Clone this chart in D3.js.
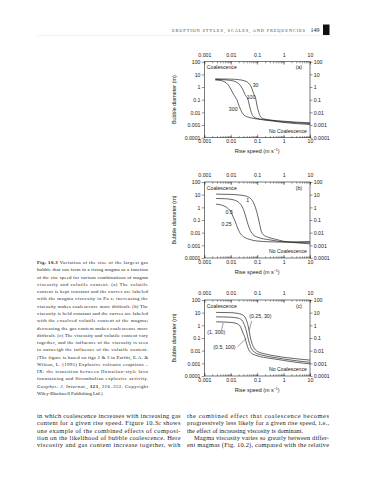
<!DOCTYPE html>
<meta charset="utf-8">
<style>

body {
  margin: 0;
  background: #fff;
}

svg {
  display: block;
}

</style>
<body>
<script src="https://cdn.jsdelivr.net/npm/d3@7"></script>
<script>

var width = 369,
    height = 480;

// tick values and labels, shared by the three panels
var speedTicks = [0.001, 0.01, 0.1, 1, 10],
    speedLabels = ["0.001", "0.01", "0.1", "1", "10"],
    diamTicks = [100, 10, 1, 0.1, 0.01, 0.001, 0.0001],
    diamLabels = ["100", "10", "1", "0.1", "0.01", "0.001", "0.0001"];

// (a) constant volatile content, viscosity 30, 100, 300 Pa s  -- [rise speed, bubble diameter]
var visc30 = [[0.0026, 4.4], [0.01, 4.2], [0.02, 3.8], [0.035, 3], [0.048, 2], [0.06, 1], [0.072, 0.35], [0.09, 0.1],
              [0.1, 0.03], [0.115, 0.01], [0.13, 0.005], [0.17, 0.0032], [0.3, 0.0025], [1, 0.002], [3, 0.0017], [10, 0.0015]];
var visc100 = [[0.0026, 4], [0.005, 3.8], [0.01, 3.3], [0.016, 2.5], [0.022, 1.5], [0.028, 0.7], [0.035, 0.25], [0.045, 0.1],
               [0.052, 0.03], [0.06, 0.01], [0.07, 0.005], [0.1, 0.0033], [0.3, 0.0024], [1, 0.0018], [3, 0.0015], [10, 0.0013]];
var visc300 = [[0.0026, 3.6], [0.004, 3.3], [0.006, 2.5], [0.008, 1.5], [0.01, 0.7], [0.013, 0.25], [0.017, 0.1], [0.021, 0.03],
               [0.026, 0.011], [0.032, 0.006], [0.05, 0.004], [0.1, 0.003], [0.3, 0.0022], [1, 0.0016], [3, 0.0013], [10, 0.0011]];

// (b) constant viscosity, exsolved volatile content 1, 0.5, 0.25
var gas1 = [[0.0028, 11], [0.01, 10.5], [0.02, 9.5], [0.035, 8], [0.05, 6], [0.065, 3.5], [0.08, 1.5], [0.095, 0.5], [0.11, 0.15],
            [0.125, 0.045], [0.14, 0.015], [0.17, 0.007], [0.25, 0.0045], [0.5, 0.003], [1, 0.0021], [3, 0.0016], [10, 0.0013]];
var gas05 = [[0.0028, 5], [0.006, 4.8], [0.01, 4.3], [0.015, 3.5], [0.02, 2.5], [0.026, 1.3], [0.032, 0.5], [0.038, 0.15],
             [0.045, 0.045], [0.055, 0.015], [0.07, 0.007], [0.1, 0.0045], [0.3, 0.0027], [1, 0.0019], [3, 0.0017], [10, 0.0016]];
var gas025 = [[0.0028, 1.8], [0.004, 1.6], [0.006, 1.2], [0.008, 0.8], [0.01, 0.45], [0.012, 0.2], [0.015, 0.07], [0.018, 0.025],
              [0.022, 0.01], [0.03, 0.005], [0.05, 0.003], [0.1, 0.0022], [0.3, 0.0019], [1, 0.0018], [3, 0.0019], [10, 0.002]];

// (c) volatile content and viscosity varied together
var pair025_30 = [[0.0028, 10.5], [0.01, 10], [0.02, 8.5], [0.03, 6], [0.038, 3], [0.045, 1], [0.05, 0.35], [0.056, 0.1],
                  [0.063, 0.04], [0.075, 0.017], [0.1, 0.009], [0.2, 0.0055], [0.5, 0.0038], [1, 0.003], [3, 0.0023], [10, 0.0018]];
var pair05_100 = [[0.0028, 4.7], [0.01, 4.4], [0.02, 3.6], [0.028, 2.2], [0.034, 0.9], [0.04, 0.3], [0.045, 0.1], [0.051, 0.037],
                  [0.06, 0.015], [0.08, 0.0075], [0.15, 0.0045], [0.4, 0.003], [1, 0.0022], [3, 0.0016], [10, 0.0012]];
var pair1_300 = [[0.0028, 1.9], [0.01, 1.7], [0.018, 1.3], [0.024, 0.7], [0.029, 0.25], [0.035, 0.1], [0.04, 0.035], [0.047, 0.013],
                 [0.06, 0.0065], [0.1, 0.004], [0.3, 0.0025], [1, 0.0017], [3, 0.0012], [10, 0.0009]];

var captionLines = [
  "Variation of the size of the largest gas",
  "bubble that can form in a rising magma as a function",
  "of the rise speed for various combinations of magma",
  "viscosity and volatile content. (a) The volatile",
  "content is kept constant and the curves are labeled",
  "with the magma viscosity in Pa s; increasing the",
  "viscosity makes coalescence more difficult. (b) The",
  "viscosity is held constant and the curves are labeled",
  "with the exsolved volatile content of the magma;",
  "decreasing the gas content makes coalescence more",
  "difficult. (c) The viscosity and volatile content vary",
  "together, and the influence of the viscosity is seen",
  "to outweigh the influence of the volatile content.",
  "(The figure is based on figs 2 & 3 in Parfitt, E.A. &",
  "Wilson, L. (1995) Explosive volcanic eruptions \u2013",
  "IX: the transition between Hawaiian-style lava",
  "fountaining and Strombolian explosive activity.",
  "",
  "Wiley-Blackwell Publishing Ltd.)"
];

var leftColumn = [
  "in which coalescence increases with increasing gas",
  "content for a given rise speed. Figure 10.3c shows",
  "one example of the combined effects of composi-",
  "tion on the likelihood of bubble coalescence. Here",
  "viscosity and gas content increase together, with"
];

var rightColumn = [
  "the combined effect that coalescence becomes",
  "progressively less likely for a given rise speed, i.e.,",
  "the effect of increasing viscosity is dominant.",
  "Magma viscosity varies so greatly between differ-",
  "ent magmas (Fig. 10.2), compared with the relative"
];

var ink = "#222",
    sans = "'Liberation Sans', Arial, sans-serif",
    serif = "'Liberation Serif', 'Times New Roman', serif";

var plotLeft = 204.3,
    plotRight = 310,
    plotHeight = 76,
    fs = 5.2;

var panels = [
  {top: 61.7, tag: "(a)", curves: [visc30, visc100, visc300],
   labels: [["30", 0.068, 1], ["100", 0.04, 0.115], ["300", 0.0085, 0.0138]], leaders: []},
  {top: 182, tag: "(b)", curves: [gas1, gas05, gas025],
   labels: [["1", 0.039, 2.5], ["0.5", 0.0064, 0.275], ["0.25", 0.0045, 0.034]], leaders: []},
  {top: 300, tag: "(c)", curves: [pair025_30, pair05_100, pair1_300],
   labels: [["(0.25, 30)", 0.05, 3.5], ["(1, 300)", 0.0013, 0.195], ["(0.5, 100)", 0.0022, 0.0125]],
   leaders: [[[0.062, 2.2], [0.05, 0.4]], [[0.0045, 0.45], [0.0052, 1.6]], [[0.018, 0.02], [0.036, 0.08]]]}
];

var svg = d3.select("body").append("svg")
    .attr("width", width)
    .attr("height", height);

// running head
svg.append("text")
    .attr("x", 172)
    .attr("y", 31.5)
    .attr("font-family", serif)
    .attr("font-size", 4.4)
    .attr("textLength", 133)
    .attr("lengthAdjust", "spacing")
    .attr("fill", "#444")
    .text("ERUPTION STYLES, SCALES, AND FREQUENCIES");

svg.append("text")
    .attr("x", 319.5)
    .attr("y", 32)
    .attr("text-anchor", "end")
    .attr("font-family", serif)
    .attr("font-size", 6)
    .attr("fill", ink)
    .text("149");

svg.append("rect")
    .attr("x", 323)
    .attr("y", 24.5)
    .attr("width", 6.5)
    .attr("height", 10.5)
    .attr("fill", "#111");

svg.append("line")
    .attr("x1", 37)
    .attr("x2", 329.5)
    .attr("y1", 35.5)
    .attr("y2", 35.5)
    .attr("stroke", "#ddd")
    .attr("stroke-width", 0.4);

panels.forEach(function(p) {
  var bottom = p.top + plotHeight;

  var x = d3.scaleLog()
      .domain([0.001, 10])
      .range([plotLeft, plotRight]);

  var y = d3.scaleLog()
      .domain([0.0001, 100])
      .range([bottom, p.top]);

  var g = svg.append("g");

  function styleAxis(sel) {
    sel.select(".domain").remove();
    sel.selectAll("line").attr("stroke", ink).attr("stroke-width", 0.5);
    sel.selectAll("text").attr("fill", ink);
    sel.attr("font-size", fs).attr("font-family", sans);
  }

  // minor ticks on both rise-speed axes
  g.append("g")
      .attr("transform", "translate(0," + bottom + ")")
      .call(d3.axisBottom(x).tickValues(x.ticks()).tickSize(-1.6).tickSizeOuter(0).tickFormat(""))
      .call(styleAxis);

  g.append("g")
      .attr("transform", "translate(0," + p.top + ")")
      .call(d3.axisTop(x).tickValues(x.ticks()).tickSize(-1.6).tickSizeOuter(0).tickFormat(""))
      .call(styleAxis);

  g.append("g")
      .attr("transform", "translate(0," + bottom + ")")
      .call(d3.axisBottom(x).tickValues(speedTicks).tickSize(-3).tickPadding(2.1).tickSizeOuter(0)
          .tickFormat(function(d, i) { return speedLabels[i]; }))
      .call(styleAxis);

  g.append("g")
      .attr("transform", "translate(0," + p.top + ")")
      .call(d3.axisTop(x).tickValues(speedTicks).tickSize(-3).tickPadding(5).tickSizeOuter(0)
          .tickFormat(function(d, i) { return speedLabels[i]; }))
      .call(styleAxis);

  g.append("g")
      .attr("transform", "translate(" + plotLeft + ",0)")
      .call(d3.axisLeft(y).tickValues(diamTicks).tickSize(2.5).tickPadding(1.3).tickSizeOuter(0)
          .tickFormat(function(d, i) { return diamLabels[i]; }))
      .call(styleAxis);

  g.append("g")
      .attr("transform", "translate(" + plotRight + ",0)")
      .call(d3.axisRight(y).tickValues(diamTicks).tickSize(2.5).tickPadding(1.3).tickSizeOuter(0)
          .tickFormat(function(d, i) { return diamLabels[i]; }))
      .call(styleAxis);

  g.append("rect")
      .attr("x", plotLeft)
      .attr("y", p.top)
      .attr("width", plotRight - plotLeft)
      .attr("height", plotHeight)
      .attr("fill", "none")
      .attr("stroke", ink)
      .attr("stroke-width", 0.6);

  var line = d3.line()
      .x(function(d) { return x(d[0]); })
      .y(function(d) { return y(d[1]); })
      .curve(d3.curveMonotoneX);

  g.selectAll(".curve")
    .data(p.curves)
    .enter().append("path")
      .attr("class", "curve")
      .attr("d", line)
      .attr("fill", "none")
      .attr("stroke", ink)
      .attr("stroke-width", 0.7);

  g.selectAll(".leader")
    .data(p.leaders)
    .enter().append("path")
      .attr("class", "leader")
      .attr("d", d3.line().x(function(d) { return x(d[0]); }).y(function(d) { return y(d[1]); }))
      .attr("stroke", ink)
      .attr("stroke-width", 0.45);

  g.selectAll(".label")
    .data(p.labels)
    .enter().append("text")
      .attr("class", "label")
      .attr("x", function(d) { return x(d[1]); })
      .attr("y", function(d) { return y(d[2]); })
      .attr("font-family", sans)
      .attr("font-size", fs)
      .attr("fill", ink)
      .text(function(d) { return d[0]; });

  g.append("text")
      .attr("x", plotLeft + 2.5)
      .attr("y", p.top + 7.5)
      .attr("font-family", sans)
      .attr("font-size", fs)
      .attr("fill", ink)
      .text("Coalescence");

  g.append("text")
      .attr("x", plotRight - 8)
      .attr("y", p.top + 7.5)
      .attr("text-anchor", "end")
      .attr("font-family", sans)
      .attr("font-size", fs)
      .attr("fill", ink)
      .text(p.tag);

  g.append("text")
      .attr("x", plotRight - 3)
      .attr("y", bottom - 5)
      .attr("text-anchor", "end")
      .attr("font-family", sans)
      .attr("font-size", fs)
      .attr("fill", ink)
      .text("No Coalescence");

  var xt = g.append("text")
      .attr("x", (plotLeft + plotRight) / 2)
      .attr("y", bottom + 15.5)
      .attr("text-anchor", "middle")
      .attr("font-family", sans)
      .attr("font-size", 5.4)
      .attr("fill", ink);
  xt.append("tspan").text("Rise speed (m s");
  xt.append("tspan").attr("font-size", 3.6).attr("dy", -2).text("\u22121");
  xt.append("tspan").attr("dy", 2).text(")");

  g.append("text")
      .attr("transform", "translate(175.5," + (p.top + plotHeight / 2) + ")rotate(-90)")
      .attr("text-anchor", "middle")
      .attr("font-family", sans)
      .attr("font-size", 5.4)
      .attr("fill", ink)
      .text("Bubble diameter (m)");
});

// figure caption
var caption = svg.append("g")
    .attr("font-family", serif)
    .attr("font-size", 4.85)
    .attr("fill", ink);

captionLines.forEach(function(s, i) {
  var t = caption.append("text")
      .attr("x", 37)
      .attr("y", 264 + i * 7.28);
  if (i < captionLines.length - 1) t.attr("textLength", 111).attr("lengthAdjust", "spacing");
  if (i === 0) {
    t.append("tspan").attr("font-weight", "bold").text("Fig. 10.3 ");
    t.append("tspan").text(s);
  } else if (i === 17) {
    t.append("tspan").attr("font-style", "italic").text("Geophys. J. Internat.");
    t.append("tspan").text(", ");
    t.append("tspan").attr("font-weight", "bold").text("121");
    t.append("tspan").text(", 226\u2013252. Copyright");
  } else {
    t.text(s);
  }
});

// body text, two justified columns
var body = svg.append("g")
    .attr("font-family", serif)
    .attr("font-size", 6.4)
    .attr("fill", ink);

leftColumn.forEach(function(s, i) {
  body.append("text")
      .attr("x", 37)
      .attr("y", 418 + i * 7.3)
      .attr("textLength", 143.5)
      .attr("lengthAdjust", "spacing")
      .text(s);
});

rightColumn.forEach(function(s, i) {
  var indent = i === 3 ? 7 : 0;
  var t = body.append("text")
      .attr("x", 187 + indent)
      .attr("y", 418 + i * 7.3)
      .text(s);
  if (i !== 2) t.attr("textLength", 142 - indent).attr("lengthAdjust", "spacing");
});

</script>
